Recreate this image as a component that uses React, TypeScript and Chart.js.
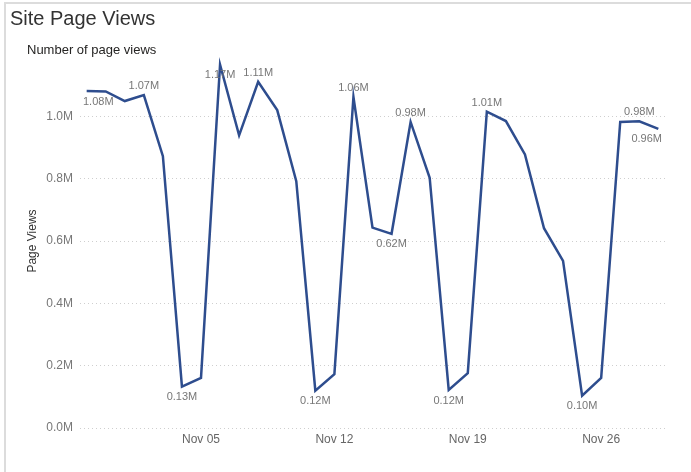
import React, { useEffect, useRef } from "react";
import { Chart, registerables } from "chart.js";

Chart.register(...registerables);

const dates: string[] = [
  "Oct 30", "Oct 31", "Nov 01", "Nov 02", "Nov 03", "Nov 04", "Nov 05", "Nov 06",
  "Nov 07", "Nov 08", "Nov 09", "Nov 10", "Nov 11", "Nov 12", "Nov 13", "Nov 14",
  "Nov 15", "Nov 16", "Nov 17", "Nov 18", "Nov 19", "Nov 20", "Nov 21", "Nov 22",
  "Nov 23", "Nov 24", "Nov 25", "Nov 26", "Nov 27", "Nov 28", "Nov 29",
];

// page views in millions
const pageViews: number[] = [
  1.081, 1.08, 1.049, 1.068, 0.872, 0.133, 0.161, 1.166,
  0.939, 1.111, 1.02, 0.792, 0.12, 0.173, 1.062, 0.643,
  0.623, 0.982, 0.803, 0.122, 0.176, 1.015, 0.985, 0.878,
  0.641, 0.536, 0.104, 0.161, 0.982, 0.984, 0.96,
];

const xTickDates: string[] = ["Nov 05", "Nov 12", "Nov 19", "Nov 26"];
const yTickValues: number[] = [0, 0.2, 0.4, 0.6, 0.8, 1.0];

const labelIndices: number[] = [0, 3, 5, 7, 9, 12, 14, 16, 17, 19, 21, 26, 29, 30];
const labelSides: string[] = [
  "below", "above", "below", "below", "above", "below", "above",
  "below", "above", "below", "above", "below", "above", "below",
];

const TITLE = "Site Page Views";
const SUBTITLE = "Number of page views";
const Y_TITLE = "Page Views";

const decorPlugin = {
  id: "decor",
  beforeDraw(chart: any) {
    const ctx = chart.ctx;
    ctx.save();
    ctx.fillStyle = "#ffffff";
    ctx.fillRect(0, 0, chart.width, chart.height);
    ctx.strokeStyle = "#dcdcdc";
    ctx.lineWidth = 2;
    ctx.beginPath();
    ctx.moveTo(5, chart.height);
    ctx.lineTo(5, 3);
    ctx.lineTo(chart.width, 3);
    ctx.stroke();
    ctx.fillStyle = "#333333";
    ctx.textBaseline = "alphabetic";
    ctx.textAlign = "left";
    ctx.font = "20px 'Liberation Sans', Arial, sans-serif";
    ctx.fillText(TITLE, 10, 25);
    ctx.fillStyle = "#252423";
    ctx.font = "13px 'Liberation Sans', Arial, sans-serif";
    ctx.fillText(SUBTITLE, 27, 54);
    ctx.restore();
  },
  afterDatasetsDraw(chart: any) {
    const ctx = chart.ctx;
    const area = chart.chartArea;
    const meta = chart.getDatasetMeta(0);
    ctx.save();
    ctx.font = "11px 'Liberation Sans', Arial, sans-serif";
    ctx.fillStyle = "#777777";
    ctx.textAlign = "center";
    ctx.textBaseline = "middle";
    labelIndices.forEach((idx, k) => {
      const pt = meta.data[idx];
      if (!pt) return;
      const text = pageViews[idx].toFixed(2) + "M";
      const w = ctx.measureText(text).width;
      let cx = pt.x;
      cx = Math.max(area.left + w / 2 + 3, Math.min(area.right - w / 2 - 3, cx));
      const cy = labelSides[k] === "above" ? pt.y - 9 : pt.y + 10.5;
      ctx.fillText(text, cx, cy);
    });
    ctx.restore();
  },
};

export default function App() {
  const ref = useRef<HTMLCanvasElement | null>(null);

  useEffect(() => {
    if (!ref.current) return;
    const chart = new Chart(ref.current, {
      type: "line",
      data: {
        datasets: [
          {
            label: "Page Views",
            data: pageViews.map((v, i) => ({ x: i, y: v })),
            borderColor: "#2E4D8E",
            borderWidth: 2.5,
            pointRadius: 0,
            tension: 0,
            fill: false,
          },
        ],
      },
      options: {
        animation: false,
        responsive: false,
        devicePixelRatio: 1,
        layout: { padding: { top: 54, right: 26, left: 0, bottom: 0 } },
        plugins: {
          legend: { display: false },
          tooltip: { enabled: false },
          title: { display: false },
        },
        scales: {
          x: {
            type: "linear",
            min: -0.35,
            max: dates.length - 1 + 0.35,
            grid: { display: false, drawTicks: false },
            border: { display: false },
            afterBuildTicks: (scale: any) => {
              scale.ticks = xTickDates.map((d) => ({ value: dates.indexOf(d) }));
            },
            afterFit: (scale: any) => {
              scale.height = 44;
            },
            ticks: {
              autoSkip: false,
              maxRotation: 0,
              padding: 4,
              color: "#666666",
              font: { family: "'Liberation Sans', Arial, sans-serif", size: 12 },
              callback: (value: any) => dates[Math.round(Number(value))] ?? "",
            },
          },
          y: {
            type: "linear",
            min: 0,
            max: 1.2,
            grid: { color: "#cfcfcf", lineWidth: 1, drawTicks: false },
            border: { display: false, dash: [1, 3] },
            afterBuildTicks: (scale: any) => {
              scale.ticks = yTickValues.map((v) => ({ value: v }));
            },
            afterFit: (scale: any) => {
              scale.width = 80;
            },
            ticks: {
              padding: 7,
              color: "#777777",
              font: { family: "'Liberation Sans', Arial, sans-serif", size: 12 },
              callback: (value: any) => Number(value).toFixed(1) + "M",
            },
            title: {
              display: true,
              text: Y_TITLE,
              color: "#333333",
              padding: { top: 25, bottom: 0 },
              font: { family: "'Liberation Sans', Arial, sans-serif", size: 12 },
            },
          },
        },
      },
      plugins: [decorPlugin],
    });
    return () => chart.destroy();
  }, []);

  return (
    <div style={{ position: "absolute", left: 0, top: 0, width: 691, height: 472, background: "#fff" }}>
      <canvas ref={ref} width={691} height={472} style={{ display: "block", width: 691, height: 472 }} />
    </div>
  );
}
